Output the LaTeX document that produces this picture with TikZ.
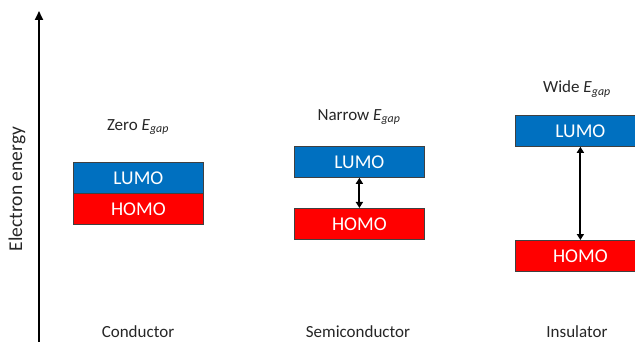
\documentclass[tikz,border=0pt]{standalone}
\usepackage{fontspec}
\setmainfont{Carlito}
\usetikzlibrary{arrows.meta}
\definecolor{lumoblue}{HTML}{0070C0}
\definecolor{homored}{HTML}{FF0000}
\definecolor{edgegray}{HTML}{404040}
\begin{document}
\begin{tikzpicture}[x=1pt,y=-1pt,
  level/.style={draw=edgegray,line width=0.8pt,minimum width=130pt,minimum height=31pt,
    inner sep=0pt,text=white,font=\fontsize{19.5}{19.5}\selectfont,anchor=north west},
  lumo/.style={level,fill=lumoblue},
  homo/.style={level,fill=homored},
  gaparrow/.style={line width=2pt,{Triangle[length=6pt,width=7pt]}-{Triangle[length=6pt,width=7pt]}},
  caption/.style={font=\fontsize{17}{17}\selectfont,text=black!85}]
\useasboundingbox (0,0) rectangle (635,342);
\clip (0,0) rectangle (635,342);

% energy axis
\coordinate (axb) at (39,345);
\coordinate (axt) at (39,11);
\draw[line width=2.2pt,-{Triangle[length=9pt,width=8pt]}] (axb) -- (axt);
\node[caption,rotate=90,font=\fontsize{19.5}{19.5}\selectfont] (elab) at (17,189) {Electron energy};

% conductor
\node[lumo] (l1) at (73,162) {LUMO};
\node[homo] (h1) at (73,193) {HOMO};
\node[caption] (g1) at (138,127) {Zero \textit{E}\textsubscript{\textit{gap}}};
\node[caption] (c1) at (138,332) {Conductor};

% semiconductor
\node[lumo] (l2) at (294,146) {LUMO};
\node[homo] (h2) at (294,208) {HOMO};
\draw[gaparrow] (l2.south) -- (h2.north);
\node[caption] (g2) at (359,117) {Narrow \textit{E}\textsubscript{\textit{gap}}};
\node[caption] (c2) at (358,332) {Semiconductor};

% insulator
\node[lumo] (l3) at (515,115) {LUMO};
\node[homo] (h3) at (515,240) {HOMO};
\draw[gaparrow] (l3.south) -- (h3.north);
\node[caption] (g3) at (577,89) {Wide \textit{E}\textsubscript{\textit{gap}}};
\node[caption] (c3) at (577,332) {Insulator};
\end{tikzpicture}
\end{document}
